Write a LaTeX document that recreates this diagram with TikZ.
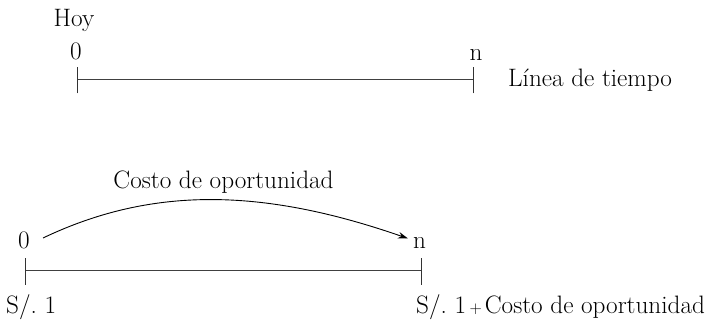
\documentclass[tikz,border=0pt]{standalone}
\usetikzlibrary{arrows.meta}
\begin{document}
\begin{tikzpicture}[x=1pt,y=-1pt,
  lbl/.style={inner sep=0pt,font=\fontsize{25.2}{29}\selectfont},
  axis/.style={line width=0.9pt,draw=black!75},
  tick/.style={line width=0.9pt,draw=black!80},
  arc/.style={line width=0.9pt,-{Stealth[length=10pt,width=6.5pt]}}]
\useasboundingbox (0,0) rectangle (716,321);
% top timeline
\coordinate (a0) at (77.5,79.5);
\coordinate (an) at (473.5,79.5);
\draw[axis] (a0) -- (an);
\draw[tick] ([yshift=-14pt]a0) -- ([yshift=12pt]a0);
\draw[tick] ([yshift=-14pt]an) -- ([yshift=12pt]an);
\node[lbl,anchor=base] (hoy) at (74,27) {Hoy};
\node[lbl,anchor=base] (z1) at (76,60) {0};
\node[lbl,anchor=base] (n1) at (476,61) {n};
\node[lbl,anchor=base west] (lt) at (508,87) {Línea de tiempo};
% bottom timeline
\coordinate (b0) at (25.5,270.5);
\coordinate (bn) at (421.5,270.5);
\draw[axis] (b0) -- (bn);
\draw[tick] ([yshift=-14pt]b0) -- ([yshift=13pt]b0);
\draw[tick] ([yshift=-14pt]bn) -- ([yshift=13pt]bn);
\node[lbl,anchor=base] (z2) at (24,248) {0};
\node[lbl,anchor=base] (n2) at (419.5,248) {n};
\node[lbl,anchor=base west] (s1) at (6,313) {S/.~1};
\node[lbl,anchor=base west] (s2) at (416,313) {S/.~1\hspace{3.5pt}{\fontsize{17}{19}\selectfont+}\hspace{3pt}Costo de oportunidad};
\node[lbl,anchor=base] (co) at (223.5,188) {Costo de oportunidad};
\coordinate (cs) at (43,238);
\coordinate (ce) at (408,238.5);
\draw[arc] (cs) .. controls (150,187) and (260,187) .. (ce);
\end{tikzpicture}
\end{document}
